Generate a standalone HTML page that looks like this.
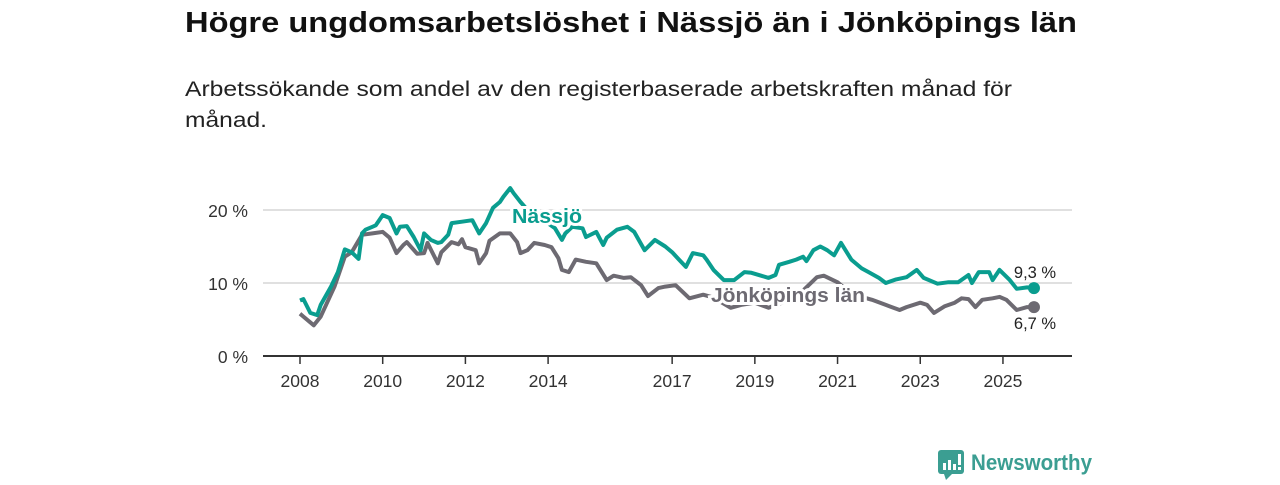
<!DOCTYPE html>
<html><head><meta charset="utf-8"><style>
body{margin:0;background:#fff;width:1280px;height:480px;overflow:hidden;font-family:"Liberation Sans",sans-serif}
</style></head><body>
<svg width="1280" height="480" viewBox="0 0 1280 480" font-family="Liberation Sans, sans-serif">
<text x="185" y="32" font-size="29" font-weight="bold" fill="#111" textLength="892" lengthAdjust="spacingAndGlyphs">Högre ungdomsarbetslöshet i Nässjö än i Jönköpings län</text>
<text x="185" y="96" font-size="21" fill="#222" textLength="827" lengthAdjust="spacingAndGlyphs">Arbetssökande som andel av den registerbaserade arbetskraften månad för</text>
<text x="185" y="127" font-size="21" fill="#222" textLength="82" lengthAdjust="spacingAndGlyphs">månad.</text>
<g id="grid"></g><g id="axes"></g><g id="lines"></g><g id="labels"></g>
<g>
<rect x="938" y="450" width="26" height="24" rx="3" fill="#3b9e92"/>
<polygon points="944,474 952,474 946,480" fill="#3b9e92"/>
<rect x="943" y="463" width="3" height="7" fill="#fff"/><rect x="948" y="460" width="3" height="10" fill="#fff"/><rect x="953" y="464" width="3" height="6" fill="#fff"/><rect x="958" y="454" width="3" height="11" fill="#fff"/><rect x="958" y="467" width="3" height="3" fill="#fff"/>
<text x="971" y="470" font-size="22" font-weight="bold" fill="#3b9e92" textLength="121" lengthAdjust="spacingAndGlyphs">Newsworthy</text>
</g>
</svg>
<script>
const nassjoMonths=[0,1,3,5,6,9,11,13,15,17,18,19,21,22,24,26,28,29,31,33,35,36,38,40,41,43,44,47,50,52,54,56,58,59,61,62,64,67,71,74,76,77,79,82,83,86,88,89,92,95,97,100,103,106,108,110,112,114,117,118,120,123,126,129,131,136,138,139,142,144,146,147,149,151,153,155,157,160,163,165,168,170,173,176,179,181,185,188,191,194,195,197,200,201,203,206,208,211,213];
const nassjoValues=[7.6,7.8,5.9,5.6,7.0,9.5,11.5,14.6,14.2,13.3,16.8,17.3,17.7,17.9,19.3,18.9,16.8,17.7,17.8,16.3,14.5,16.8,15.9,15.5,15.6,16.6,18.2,18.4,18.6,16.8,18.2,20.3,21.1,21.8,23.0,22.3,21.1,19.5,18.5,17.5,15.9,16.8,17.7,17.5,16.3,17.0,15.2,16.2,17.3,17.7,17.0,14.5,15.9,15.0,14.2,13.2,12.2,14.1,13.8,13.2,11.8,10.4,10.4,11.5,11.4,10.7,11.1,12.5,12.9,13.2,13.6,13.0,14.5,15.0,14.5,13.8,15.5,13.2,12.0,11.5,10.7,10.0,10.5,10.8,11.8,10.7,9.9,10.1,10.1,11.1,10.0,11.5,11.5,10.4,11.8,10.4,9.2,9.4,9.3];
const lanMonths=[0,1,4,6,10,13,15,18,21,24,26,28,30,31,34,36,37,40,41,44,46,47,48,51,52,54,55,58,61,63,64,66,68,71,73,75,76,78,80,83,86,89,91,94,96,99,101,104,106,109,113,117,120,125,128,132,136,141,145,150,152,156,160,166,170,174,176,180,182,184,187,190,192,194,196,198,201,203,205,208,211,213];
const lanValues=[5.8,5.4,4.2,5.4,9.5,13.6,14.2,16.6,16.8,17.0,16.2,14.1,15.2,15.6,14.0,14.1,15.5,12.7,14.2,15.6,15.3,16.0,14.9,14.5,12.7,14.1,15.8,16.8,16.8,15.6,14.1,14.5,15.5,15.2,14.9,13.4,11.8,11.5,13.2,12.9,12.7,10.4,11.0,10.7,10.8,9.7,8.2,9.3,9.5,9.7,7.9,8.4,8.0,6.6,7.0,7.3,6.6,7.5,8.5,10.8,11.0,10.1,8.5,7.7,7.0,6.3,6.7,7.3,7.0,5.9,6.8,7.3,7.9,7.8,6.7,7.7,7.9,8.1,7.7,6.3,6.7,6.7];
const yTicks=[0,10,20];
const yTickLabels=["0 %","10 %","20 %"];
const xTicks=[2008,2010,2012,2014,2017,2019,2021,2023,2025];
const endLabels=["9,3 %","6,7 %"];
const NS="http://www.w3.org/2000/svg";
const X=m=>300+(m/12)*41.35;
const XY=yr=>300+(yr-2008)*41.35;
const Y=v=>356-v*7.3;
function mk(tag,attrs,parent,txt){const e=document.createElementNS(NS,tag);for(const k in attrs)e.setAttribute(k,attrs[k]);if(txt!==undefined)e.textContent=txt;document.getElementById(parent).appendChild(e);return e;}
yTicks.forEach((v,i)=>{
 if(v>0){const g=mk('line',{x1:263,x2:1072,y1:Y(v),y2:Y(v),stroke:'#d6d6d6','stroke-width':1.5},'grid');
 
 }
 const t=mk('text',{x:248,y:Y(v)+7,'text-anchor':'end','font-size':17.5,fill:'#333'},'grid',yTickLabels[i]);
 
 
});
const ax=mk('line',{x1:263,x2:1072,y1:356,y2:356,stroke:'#333','stroke-width':2},'axes');


xTicks.forEach(yr=>{
 const tk=mk('line',{x1:XY(yr),x2:XY(yr),y1:356,y2:364,stroke:'#333','stroke-width':1.5},'axes');
 
 
 const t=mk('text',{x:XY(yr),y:387,'text-anchor':'middle','font-size':17.5,fill:'#333'},'axes',String(yr));
 
 
});
function line(ms,vs,col,name){
 const d=ms.map((m,i)=>(i?'L':'M')+X(m).toFixed(1)+','+Y(vs[i]).toFixed(1)).join('');
 const p=mk('path',{d:d,fill:'none',stroke:col,'stroke-width':4,'stroke-linejoin':'round'},'lines');
 
 
 const n=ms.length-1;
 const c=mk('circle',{cx:X(ms[n]),cy:Y(vs[n]),r:6,fill:col},'lines');
 
 
}
line(lanMonths,lanValues,'#6d6a72','jonkoping');
line(nassjoMonths,nassjoValues,'#0a9d8f','nassjo');
const l1=mk('text',{x:512,y:223,'font-size':20,'font-weight':'bold',fill:'#0a9d8f',stroke:'#fff','stroke-width':6,'paint-order':'stroke',textLength:70,lengthAdjust:'spacingAndGlyphs'},'labels','Nässjö');


const l2=mk('text',{x:711,y:302,'font-size':20,'font-weight':'bold',fill:'#6d6a72',stroke:'#fff','stroke-width':6,'paint-order':'stroke',textLength:154,lengthAdjust:'spacingAndGlyphs'},'labels','Jönköpings län');


const nL=nassjoMonths.length-1, jL=lanMonths.length-1;
const e1=mk('text',{x:1035,y:Y(nassjoValues[nL])-10,'text-anchor':'middle','font-size':16.5,fill:'#222'},'labels',endLabels[0]);


const e2=mk('text',{x:1035,y:Y(lanValues[jL])+22,'text-anchor':'middle','font-size':16.5,fill:'#222'},'labels',endLabels[1]);


</script>
</body></html>
